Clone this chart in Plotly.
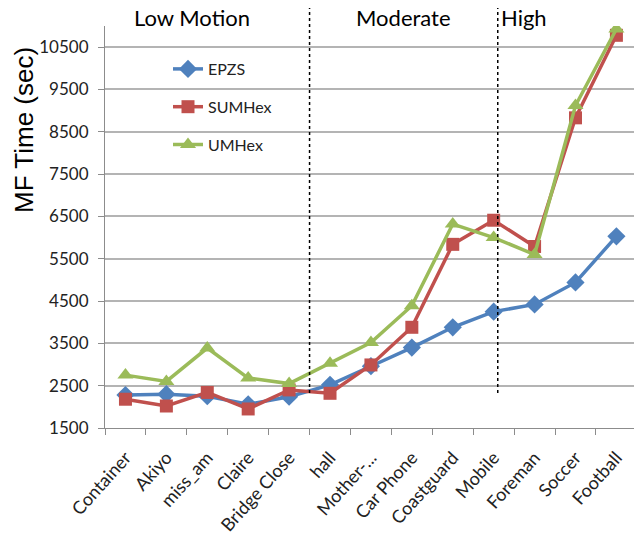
import plotly.graph_objects as go

categories = ["Container", "Akiyo", "miss_am", "Claire", "Bridge Close", "hall",
              "Mother-...", "Car Phone", "Coastguard", "Mobile", "Foreman", "Soccer", "Football"]
epzs = [2280, 2300, 2250, 2060, 2240, 2520, 2960, 3400, 3880, 4250, 4420, 4940, 6030]
sumhex = [2180, 2020, 2340, 1950, 2400, 2320, 2990, 3880, 5840, 6410, 5790, 8830, 10780]
umhex = [2750, 2600, 3390, 2680, 2550, 3030, 3520, 4390, 6320, 6000, 5600, 9120, 10930]
y_ticks = [1500, 2500, 3500, 4500, 5500, 6500, 7500, 8500, 9500, 10500]

FONT = "Lato, Liberation Sans, sans-serif"

# plot-area edges in page pixels (from the reference)
PL, PR, PT, PB = 105, 634, 26, 428
W, H = 634, 539
pw, ph = PR - PL, PB - PT

fig = go.Figure()
series = [
    ("EPZS", epzs, "#4F81BD", "diamond", 14),
    ("SUMHex", sumhex, "#C0504D", "square", 13),
    ("UMHex", umhex, "#9BBB59", "triangle-up", 14),
]
for name, vals, col, sym, sz in series:
    fig.add_trace(go.Scatter(
        x=categories, y=vals, name=name, mode="lines+markers",
        line=dict(color=col, width=3.5),
        marker=dict(symbol=sym, size=sz, color=col),
        legendgroup=name,
    ))

def px(x):
    return (x - PL) / pw

def py(y):
    return (PB - y) / ph

# region separators
for xv in [4.5, 9.1]:
    fig.add_shape(type="line", xref="x", yref="paper", x0=xv, x1=xv, y0=py(393), y1=py(8),
                  line=dict(color="black", width=1.5, dash="dot"))

for txt, xc in [("Low Motion", 192), ("Moderate", 403), ("High", 524)]:
    fig.add_annotation(text=txt, xref="paper", yref="paper", x=px(xc), y=py(17),
                       showarrow=False, font=dict(size=22, color="black", family=FONT),
                       xanchor="center", yanchor="middle")

fig.add_annotation(text="MF Time (sec)", xref="paper", yref="paper",
                   x=px(24), y=py(130), textangle=-90,
                   showarrow=False,
                   font=dict(size=26, color="black", family="Liberation Sans, Arial, sans-serif"),
                   xanchor="center", yanchor="middle")

fig.update_layout(
    width=W, height=H,
    margin=dict(l=PL, r=W - PR, t=PT, b=H - PB),
    paper_bgcolor="white", plot_bgcolor="white",
    font=dict(family=FONT, color="#222"),
    legend=dict(x=px(168), y=py(52), xanchor="left", yanchor="top",
                bgcolor="rgba(0,0,0,0)", font=dict(size=16, color="#222"),
                traceorder="grouped", tracegroupgap=14),
    showlegend=True,
)
fig.update_xaxes(
    type="category", range=[-0.5, 12.43],
    showline=True, linecolor="#8c8c8c", linewidth=1.2,
    ticks="outside", tickson="boundaries", ticklen=6, tickcolor="#8c8c8c",
    ticklabelstandoff=11,
    tickangle=-48, tickfont=dict(size=18, color="#222"), showgrid=False,
)
fig.update_yaxes(
    range=[1500, 11000], tickvals=y_ticks, ticktext=[str(v) for v in y_ticks],
    showline=True, linecolor="#8c8c8c", linewidth=1.2,
    ticks="outside", ticklen=6, tickcolor="#8c8c8c", ticklabelstandoff=6,
    showgrid=True, gridcolor="#b4b4b4", gridwidth=1.5,
    tickfont=dict(size=17, color="#222"), zeroline=False,
)

fig.write_html("out.html", config={"displayModeBar": False},
               post_script="document.body.style.margin='0';")
